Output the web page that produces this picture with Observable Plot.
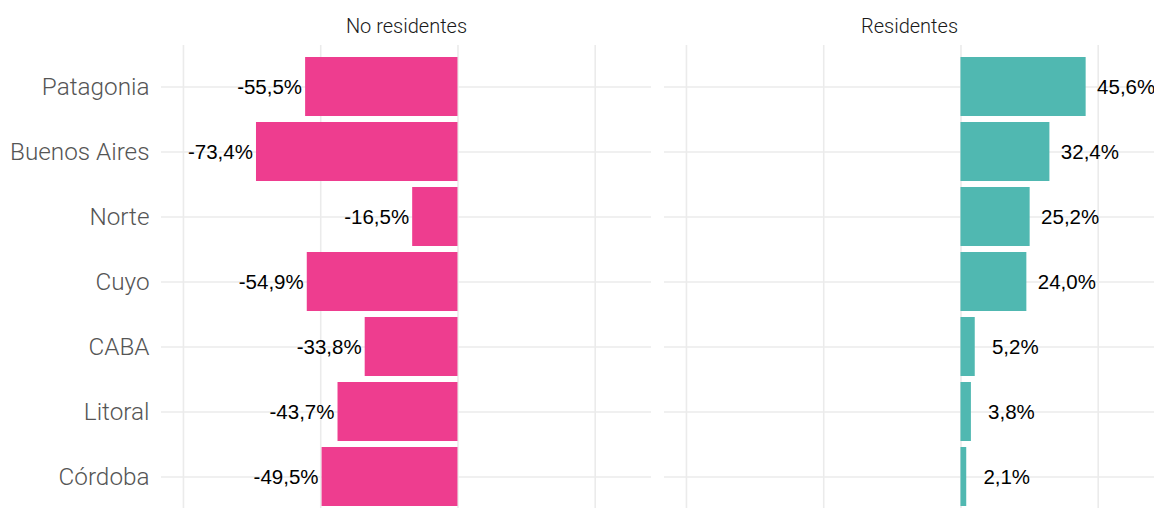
<!DOCTYPE html>
<html>
<head>
<meta charset="utf-8">
<script src="https://cdn.jsdelivr.net/npm/d3@7"></script>
<script src="https://cdn.jsdelivr.net/npm/@observablehq/plot@0.6"></script>
<style>
  html, body { margin: 0; padding: 0; background: #fff; overflow: hidden; }
  #chart { width: 1154px; }
</style>
</head>
<body>
<div id="chart"></div>
<script>
const regiones = ["Patagonia", "Buenos Aires", "Norte", "Cuyo", "CABA", "Litoral", "Córdoba"];
const noResidentes = [-55.5, -73.4, -16.5, -54.9, -33.8, -43.7, -49.5];
const residentes = [45.6, 32.4, 25.2, 24.0, 5.2, 3.8, 2.1];
const facetas = ["No residentes", "Residentes"];
const colores = ["#EE3D8F", "#50B8B1"];
const ticksX = [-100, -50, 0, 50];

const data = [
  ...regiones.map((r, i) => ({region: r, tipo: facetas[0], value: noResidentes[i]})),
  ...regiones.map((r, i) => ({region: r, tipo: facetas[1], value: residentes[i]}))
];

const fmt = v => d3.format(".1f")(v).replace(".", ",").replace("−", "-") + "%";
const labelFont = "'Liberation Sans', Arial, sans-serif";

const chart = Plot.plot({
  width: 1154,
  height: 517,
  marginLeft: 160,
  marginRight: 0,
  marginTop: 45,
  marginBottom: 0,
  style: {fontFamily: "Roboto, sans-serif", background: "#fff"},
  x: {domain: [-108, 70.5], axis: null},
  y: {domain: regiones, paddingInner: 0.1, paddingOuter: 0.15, axis: null},
  fx: {domain: facetas, paddingInner: 0.026, paddingOuter: 0, axis: null},
  color: {domain: facetas, range: colores},
  marks: [
    Plot.gridX(ticksX, {stroke: "#ebebeb", strokeOpacity: 1, strokeWidth: 1.6}),
    Plot.gridY(regiones, {stroke: "#ebebeb", strokeOpacity: 1, strokeWidth: 1.6}),
    Plot.barX(data, {x: "value", y: "region", fx: "tipo", fill: "tipo"}),
    Plot.text(data.filter(d => d.tipo === facetas[0]), {
      x: "value", y: "region", fx: "tipo", text: d => fmt(d.value),
      dx: -36, textAnchor: "middle", fontSize: 20.5, fontFamily: labelFont, fill: "#000"
    }),
    Plot.text(data.filter(d => d.tipo === facetas[1]), {
      x: "value", y: "region", fx: "tipo", text: d => fmt(d.value),
      dx: 40, textAnchor: "middle", fontSize: 20.5, fontFamily: labelFont, fill: "#000"
    }),
    Plot.axisY({tickSize: 0, tickPadding: 12, fontSize: 24.3, fontWeight: 300, label: null, color: "#555555"}),
    Plot.axisFx({anchor: "top", tickSize: 0, tickPadding: 13, fontSize: 20, fontWeight: 300, label: null, color: "#1a1a1a"})
  ]
});

document.getElementById("chart").appendChild(chart);
</script>
</body>
</html>
